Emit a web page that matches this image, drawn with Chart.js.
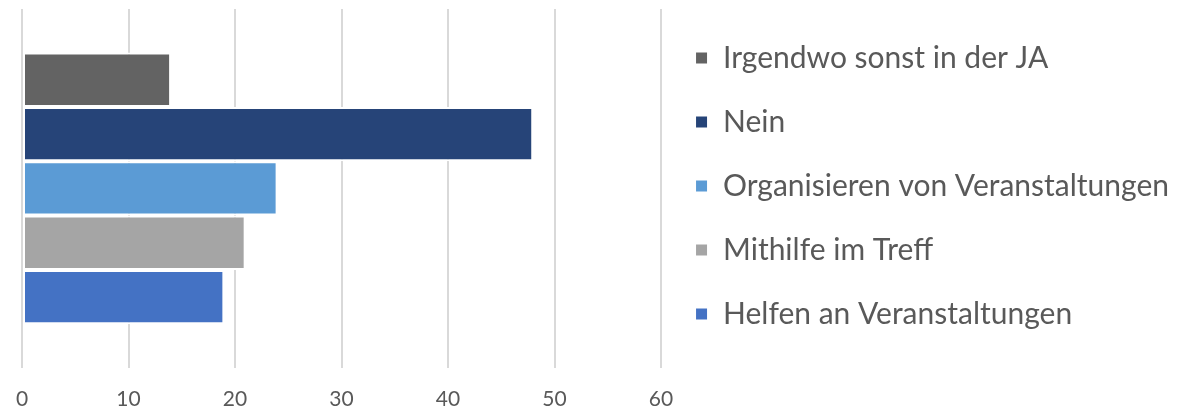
<!DOCTYPE html>
<html>
<head>
<meta charset="utf-8">
<script src="https://cdn.jsdelivr.net/npm/chart.js@4/dist/chart.umd.min.js"></script>
<style>
  html, body { margin: 0; padding: 0; background: #ffffff; }
  #wrap { width: 1180px; height: 413px; position: relative; }
</style>
</head>
<body>
<div id="wrap"><canvas id="c"></canvas></div>
<script>
const categories = [''];
const seriesNames = [
  'Irgendwo sonst in der JA',
  'Nein',
  'Organisieren von Veranstaltungen',
  'Mithilfe im Treff',
  'Helfen an Veranstaltungen'
];
const seriesValues = [14, 48, 24, 21, 19];
const seriesColors = ['#636363', '#264478', '#5B9BD5', '#A5A5A5', '#4472C4'];
const axisMin = 0;
const axisMax = 60;
const axisStep = 10;

const FONT = 'Lato, "Open Sans", sans-serif';
const TEXT = '#595959';

const datasets = seriesNames.map((name, i) => ({
  label: name,
  data: [seriesValues[i]],
  backgroundColor: seriesColors[i],
  borderColor: '#ffffff',
  borderWidth: 2,
  borderSkipped: false,
  barPercentage: 1,
  categoryPercentage: 0.757
}));

new Chart(document.getElementById('c'), {
  type: 'bar',
  data: { labels: categories, datasets },
  options: {
    indexAxis: 'y',
    responsive: true,
    maintainAspectRatio: false,
    animation: false,
    layout: { padding: { left: 22, top: 9, right: 1, bottom: 1 } },
    scales: {
      x: {
        min: axisMin,
        max: axisMax,
        ticks: { stepSize: axisStep, color: TEXT, padding: 0, font: { family: FONT, size: 21 } },
        grid: { color: '#d9d9d9', lineWidth: 2, drawTicks: true, tickLength: 19, tickColor: 'rgba(0,0,0,0)' },
        border: { display: false }
      },
      y: {
        display: false
      }
    },
    plugins: {
      legend: {
        position: 'right',
        align: 'start',
        labels: {
          color: TEXT,
          boxWidth: 13,
          boxHeight: 13,
          padding: 34,
          font: { family: FONT, size: 30 }
        }
      },
      tooltip: { enabled: false }
    }
  }
});
</script>
</body>
</html>
